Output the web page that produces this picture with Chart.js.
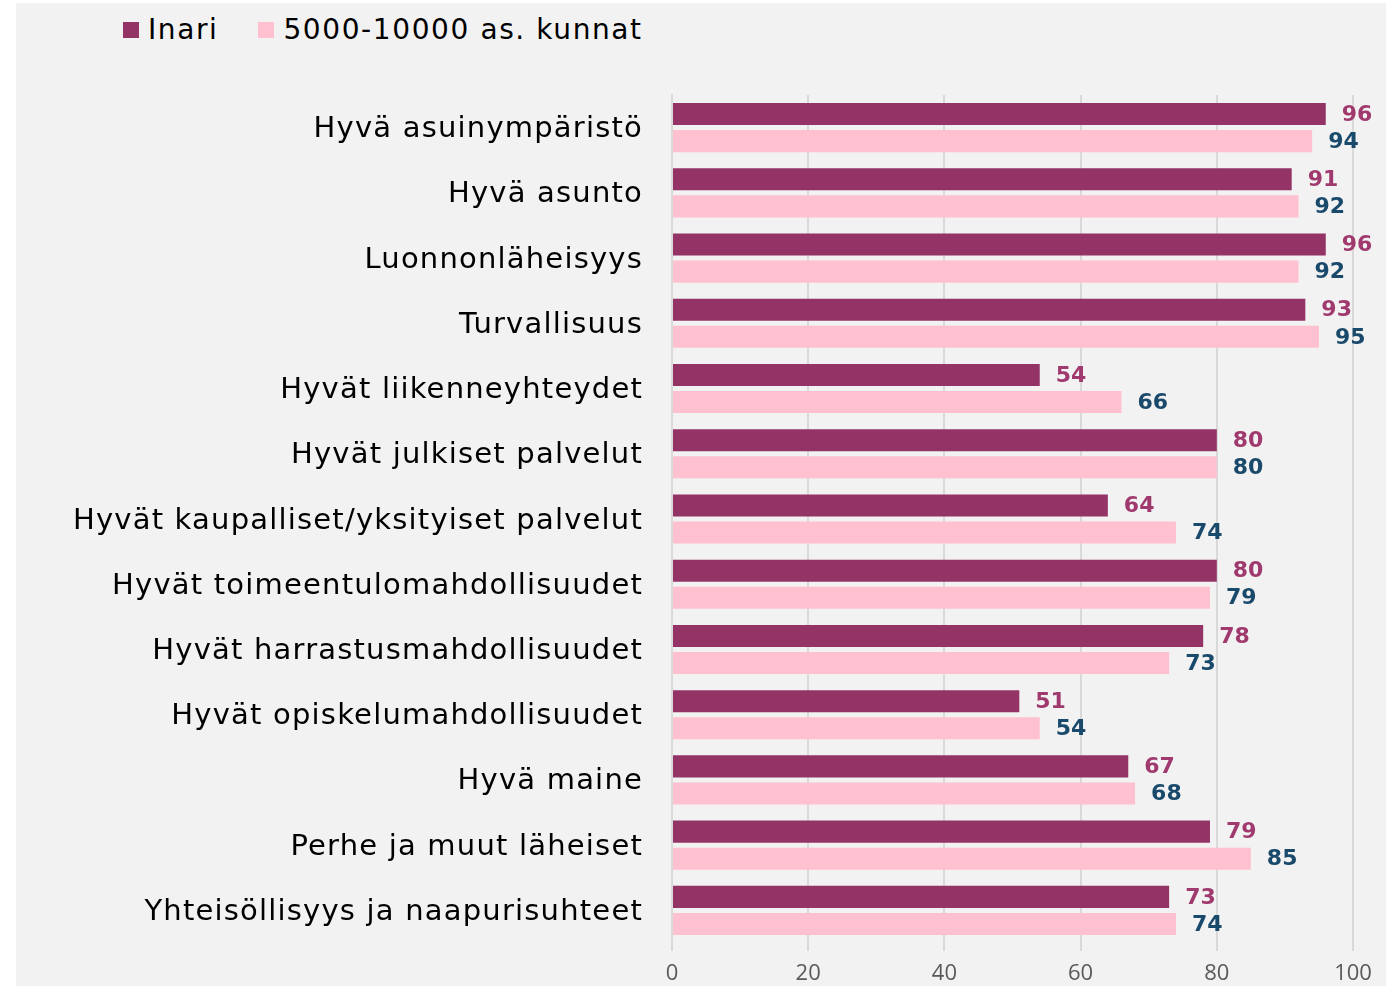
<!DOCTYPE html>
<html><head><meta charset="utf-8">
<script src="https://cdn.jsdelivr.net/npm/chart.js@4"></script>
<style>
html,body{margin:0;padding:0;background:#fff;width:1386px;height:986px;overflow:hidden}
#wrap{position:absolute;left:16px;top:3px;width:1370px;height:983px;background:#f2f2f2}
#legend{position:absolute;left:107px;top:8px;font-family:"DejaVu Sans",sans-serif;font-size:28px;letter-spacing:1.6px;color:#000;display:flex;align-items:center;line-height:38px}
#legend .it{display:flex;align-items:center;margin-right:40px}
#legend .bx{width:16px;height:16px;margin-right:9px}
canvas{position:absolute;left:0;top:0}
</style></head><body>
<div id="wrap"><div id="legend"></div><canvas id="c" width="1370" height="983"></canvas></div>
<script>
const categories = ["Hyvä asuinympäristö","Hyvä asunto","Luonnonläheisyys","Turvallisuus","Hyvät liikenneyhteydet","Hyvät julkiset palvelut","Hyvät kaupalliset/yksityiset palvelut","Hyvät toimeentulomahdollisuudet","Hyvät harrastusmahdollisuudet","Hyvät opiskelumahdollisuudet","Hyvä maine","Perhe ja muut läheiset","Yhteisöllisyys ja naapurisuhteet"];
const inari = [96,91,96,93,54,80,64,80,78,51,67,79,73];
const kunnat = [94,92,92,95,66,80,74,79,73,54,68,85,74];
const seriesNames = ["Inari","5000-10000 as. kunnat"];
const xTicks = [0,20,40,60,80,100];

const FONT = '"DejaVu Sans", sans-serif';
const TFONT = '"Open Sans", sans-serif';
const barColors = ["#933366","#ffc0cf"];
const labelColors = ["#a03a6e","#1a4a6b"];

const labelPlugin = {
  id:'vals',
  afterDatasetsDraw(chart){
    const ctx = chart.ctx;
    ctx.save();
    ctx.letterSpacing = '0px';
    ctx.font = 'bold 22px ' + FONT;
    ctx.textBaseline = 'middle';
    ctx.textAlign = 'left';
    chart.data.datasets.forEach((ds,i)=>{
      const meta = chart.getDatasetMeta(i);
      ctx.fillStyle = labelColors[i];
      meta.data.forEach((el,j)=>{
        ctx.fillText(String(ds.data[j]), el.x + 16, el.y + 1);
      });
    });
    ctx.restore();
    // category labels (y ticks, z:1) are drawn next, with wider letter spacing
    ctx.letterSpacing = '1.2px';
  },
  afterDraw(chart){ chart.ctx.letterSpacing = '0px'; }
};

const chart = new Chart(document.getElementById('c'), {
  type:'bar',
  data:{
    labels: categories,
    datasets:[
      {label:seriesNames[0], data:inari, backgroundColor:barColors[0], categoryPercentage:0.83, barPercentage:0.815},
      {label:seriesNames[1], data:kunnat, backgroundColor:barColors[1], categoryPercentage:0.83, barPercentage:0.815}
    ]
  },
  options:{
    indexAxis:'y',
    responsive:false,
    animation:false,
    layout:{padding:{top:92,right:33,bottom:0,left:0}},
    plugins:{legend:{display:false},tooltip:{enabled:false}},
    scales:{
      x:{
        min:0,max:100,
        afterBuildTicks(s){ s.ticks = xTicks.map(v=>({value:v})); },
        afterFit(s){ s.height = 43; },
        grid:{color:'#d9d9d9',lineWidth:2,tickLength:8,drawTicks:true},
        border:{display:false},
        ticks:{font:{family:TFONT,size:22},color:'#595959',padding:10}
      },
      y:{
        grid:{display:false},
        border:{display:true,color:'#d9d9d9',width:2},
        afterFit(s){ s.width = 656; },
        ticks:{z:1,font:{family:FONT,size:29},color:'#000',padding:21,labelOffset:2}
      }
    }
  },
  plugins:[labelPlugin]
});

const lg = document.getElementById('legend');
chart.data.datasets.forEach(ds=>{
  const it=document.createElement('div');it.className='it';
  const b=document.createElement('div');b.className='bx';b.style.background=ds.backgroundColor;
  const t=document.createElement('span');t.textContent=ds.label;
  it.appendChild(b);it.appendChild(t);lg.appendChild(it);
});
</script>
</body></html>
